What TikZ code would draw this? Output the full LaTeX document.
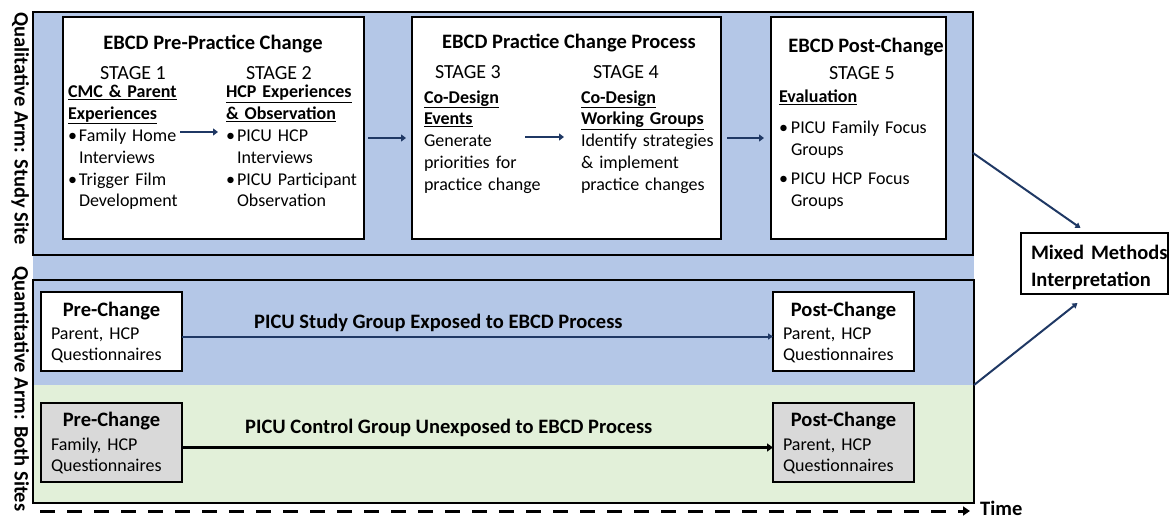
\documentclass[tikz,border=0pt]{standalone}
\usepackage{fontspec}
\setmainfont{Carlito}
\usetikzlibrary{arrows.meta}
\definecolor{qblue}{HTML}{B4C7E7}
\definecolor{qgreen}{HTML}{E2F0D9}
\definecolor{qgray}{HTML}{D9D9D9}
\definecolor{navy}{HTML}{1F3864}
\newcommand{\bl}{\makebox[11pt][l]{•}}
\newcommand{\ind}{\hspace*{11pt}}
\newcommand{\blc}{\makebox[12pt][l]{•}}
\newcommand{\indc}{\hspace*{12pt}}
\newcommand{\hd}[1]{\underline{\textbf{#1}}}
\begin{document}
\begin{tikzpicture}[x=1pt,y=-1pt,
  frame/.style={draw=black,line width=1.5pt,inner sep=0,outer sep=0,anchor=north west},
  body/.style={anchor=base west,inner sep=0,outer sep=0,align=left,text width=220pt,font=\fontsize{18}{21.9}\selectfont},
  ttl/.style={anchor=base,inner sep=0,font=\bfseries\fontsize{20.5}{24}\selectfont},
  ttlw/.style={anchor=base west,inner sep=0,font=\bfseries\fontsize{20.5}{24}\selectfont},
  stg/.style={anchor=base,inner sep=0,font=\fontsize{20}{24}\selectfont},
  side/.style={anchor=base,inner sep=0,rotate=-90,font=\bfseries\fontsize{20.5}{24}\selectfont},
  arr/.style={draw=navy,line width=2.5pt,-{Triangle[length=5pt,width=7pt]}},
  thinarr/.style={draw=navy,line width=2pt,-{Triangle[length=5pt,width=6pt]}},
]
\useasboundingbox (0,0) rectangle (1171,519);
% backgrounds
\fill[qblue] (33,12) rectangle (974,385);
\fill[qgreen] (33,385) rectangle (974,503);
% frames
\node[frame,minimum width=940,minimum height=243] (qual) at (33,12) {};
\node[frame,minimum width=941,minimum height=223] (quant) at (33,280) {};
\node[frame,fill=white,minimum width=301,minimum height=222] (b1) at (63,17) {};
\node[frame,fill=white,minimum width=309,minimum height=222] (b2) at (412,17) {};
\node[frame,fill=white,minimum width=175,minimum height=222] (b3) at (771,17) {};
\node[frame,fill=white,minimum width=141,minimum height=79] (pre1) at (41,292) {};
\node[frame,fill=qgray,minimum width=141,minimum height=79] (pre2) at (41,403) {};
\node[frame,fill=white,minimum width=141,minimum height=79] (post1) at (773,292) {};
\node[frame,fill=qgray,minimum width=141,minimum height=79] (post2) at (773,403) {};
\node[frame,fill=white,minimum width=147,minimum height=61] (mm) at (1021,233) {};
% side labels
\node[side] (qlab) at (14.5,128.5) {Qualitative Arm: Study Site};
\node[side] (nlab) at (14.5,389) {Quantitative Arm: Both Sites};
% box 1
\node[ttl] (t1) at (213,50) {EBCD Pre-Practice Change};
\node[stg] (s1) at (133,80) {STAGE 1};
\node[stg] (s2) at (279,80) {STAGE 2};
\node[body] (c1) at (68,97.5) {\hd{CMC \& Parent}\\\hd{Experiences}\\\bl Family Home\\\ind Interviews\\\bl Trigger Film\\\ind Development};
\node[body] (c2) at (226,97.5) {\hd{HCP Experiences}\\\hd{\& Observation}\\\bl PICU HCP\\\ind Interviews\\\bl PICU Participant\\\ind Observation};
% box 2
\node[ttl] (t2) at (569,49) {EBCD Practice Change Process};
\node[stg] (s3) at (468,79) {STAGE 3};
\node[stg] (s4) at (626,79) {STAGE 4};
\node[body] (c3) at (424,103) {\hd{Co-Design}\\\hd{Events}\\Generate\\priorities for\\practice change};
\node[body] (c4) at (581,103) {\hd{Co-Design}\\\hd{Working Groups}\\Identify strategies\\\& implement\\practice changes};
% box 3
\node[ttl] (t3) at (866,53) {EBCD Post-Change};
\node[stg] (s5) at (862,80) {STAGE 5};
\node[body] (c5) at (779,102.7) {\hd{Evaluation}\\[8.5pt]\blc PICU Family Focus\\\indc Groups\\[8pt]\blc PICU HCP Focus\\\indc Groups};
% quantitative texts
\node[ttl] (pt1) at (111.5,316.7) {Pre-Change};
\node[body] (pb1) at (51,339) {Parent, HCP\\Questionnaires};
\node[ttl] (pt2) at (111.5,426.7) {Pre-Change};
\node[body] (pb2) at (51,450) {Family, HCP\\Questionnaires};
\node[ttl] (qt1) at (843.5,316.7) {Post-Change};
\node[body] (qb1) at (783,339) {Parent, HCP\\Questionnaires};
\node[ttl] (qt2) at (843.5,426.7) {Post-Change};
\node[body] (qb2) at (783,450) {Parent, HCP\\Questionnaires};
\node[ttlw] (l1) at (254,328) {PICU Study Group Exposed to EBCD Process};
\node[ttlw] (l2) at (245,433) {PICU Control Group Unexposed to EBCD Process};
% mixed methods
\node[body,font=\bfseries\fontsize{20.5}{27}\selectfont] (mmt) at (1031,259) {Mixed Methods\\Interpretation};
% time
\node[ttlw] (time) at (980,515.5) {Time};
\coordinate (tstart) at (40,511);
% stage arrows
\coordinate (a1s) at (180,132);
\coordinate (a1e) at (218,132);
\coordinate (a3s) at (525,137);
\coordinate (a3e) at (564,137);
\draw[arr] (a1s) -- (a1e);
\draw[arr] (a3s) -- (a3e);
\draw[arr,shorten <=4pt,shorten >=6pt] ([yshift=-10pt]b1.east) -- ([yshift=-10pt]b2.west);
\draw[arr,shorten <=6pt,shorten >=7pt] ([yshift=-10pt]b2.east) -- ([yshift=-10pt]b3.west);
% quantitative arrows
\draw[thinarr] ([yshift=-5pt]pre1.east) -- ([yshift=-5pt]post1.west);
\draw[draw=black,line width=3pt,-{Triangle[length=6pt,width=8pt]}] ([yshift=-5pt]pre2.east) -- ([yshift=-5pt]post2.west);
% to mixed methods
\draw[thinarr] ([yshift=-19.5pt]qual.east) -- ([xshift=-14pt,yshift=5pt]mm.north);
\draw[thinarr] ([yshift=6.5pt]quant.east) -- ([xshift=-17pt,yshift=-9pt]mm.south);
% time arrow
\draw[line width=3pt,dash pattern=on 15pt off 12pt,-{Triangle[length=7pt,width=9pt]},shorten >=10pt] (tstart) -- (tstart -| time.west);
\end{tikzpicture}
\end{document}
